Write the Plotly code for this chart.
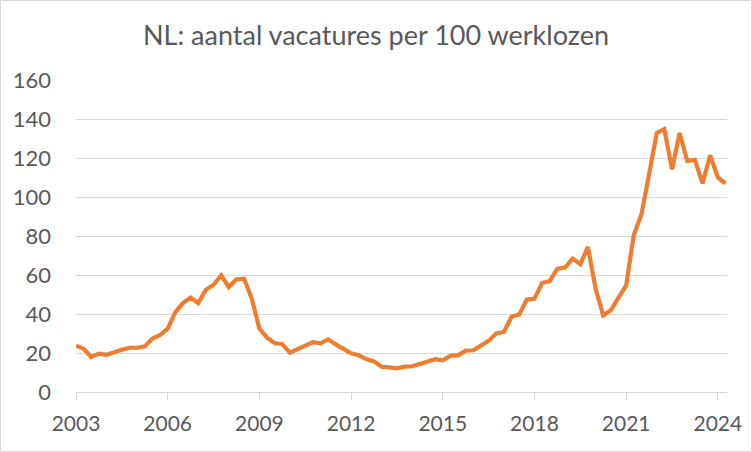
import plotly.graph_objects as go

start_year = 2003
values = [
    23.8, 22.2, 18.0, 19.7, 19.1, 20.5, 21.7, 22.7, 22.7, 23.4, 27.4, 29.2,
    32.5, 41.0, 45.6, 48.4, 45.6, 52.5, 55.0, 59.8, 53.8, 57.8, 58.1, 47.9,
    32.5, 27.9, 25.1, 24.5, 20.2, 22.0, 23.6, 25.5, 25.0, 27.0, 24.4, 22.0,
    19.8, 18.8, 16.9, 15.7, 13.0, 12.6, 12.1, 13.0, 13.2, 14.4, 15.6, 16.8,
    16.2, 18.6, 18.8, 21.2, 21.4, 24.0, 26.2, 30.0, 30.8, 38.6, 39.7, 47.4,
    47.9, 55.9, 56.9, 63.2, 63.8, 68.4, 65.5, 74.4, 53.0, 39.3, 41.9, 48.4,
    54.6, 80.5, 91.0, 111.6, 132.8, 134.8, 114.2, 132.8, 118.5, 119.0, 107.0, 121.4,
    110.0, 107.0,
]
x_ticks = [2003, 2006, 2009, 2012, 2015, 2018, 2021, 2024]
y_ticks = [0, 20, 40, 60, 80, 100, 120, 140, 160]
title = "NL: aantal vacatures per 100 werklozen"

x = [start_year + i / 4 for i in range(len(values))]

W, H = 752, 452
ml, mr, mt, mb = 76, 25, 80, 60
pw, ph = W - ml - mr, H - mt - mb

font_fam = "Lato, 'Open Sans', sans-serif"
grey = "#595959"

fig = go.Figure(go.Scatter(
    x=x, y=values, mode="lines",
    line=dict(color="#ED7D31", width=4.2),
    hoverinfo="skip",
))

fig.update_layout(
    width=W, height=H,
    margin=dict(l=ml, r=mr, t=mt, b=mb, autoexpand=False),
    paper_bgcolor="white", plot_bgcolor="white",
    showlegend=False,
    title=dict(text=title, x=0.5, xanchor="center", xref="container",
               y=1 - 36 / H, yanchor="middle", yref="container",
               font=dict(family=font_fam, size=27, color=grey)),
    font=dict(family=font_fam, size=22, color=grey),
    xaxis=dict(
        range=[2003, 2024.3], tickvals=x_ticks, ticktext=[str(t) for t in x_ticks],
        showgrid=False, zeroline=False, automargin=False,
        showline=True, linecolor="#d9d9d9", linewidth=1,
        ticks="outside", ticklen=7, tickcolor="#d9d9d9", tickwidth=1,
        ticklabelstandoff=6,
        tickfont=dict(family=font_fam, size=21, color=grey),
    ),
    yaxis=dict(
        range=[0, 160], tickvals=y_ticks, automargin=False,
        showgrid=True, gridcolor="#d9d9d9", gridwidth=1,
        zeroline=False, showline=False, ticks="",
        ticklabelstandoff=24,
        tickfont=dict(family=font_fam, size=22, color=grey),
    ),
    shapes=[dict(
        type="rect", xref="paper", yref="paper",
        x0=-(ml - 0.5) / pw, x1=(W - ml - 0.5) / pw,
        y0=-(mb - 0.5) / ph, y1=(H - mb - 0.5) / ph,
        line=dict(color="#d9d9d9", width=1), fillcolor="rgba(0,0,0,0)",
        layer="below",
    )],
)

fig.write_html("out.html", config={"displayModeBar": False},
               post_script="document.body.style.margin='0px';")
